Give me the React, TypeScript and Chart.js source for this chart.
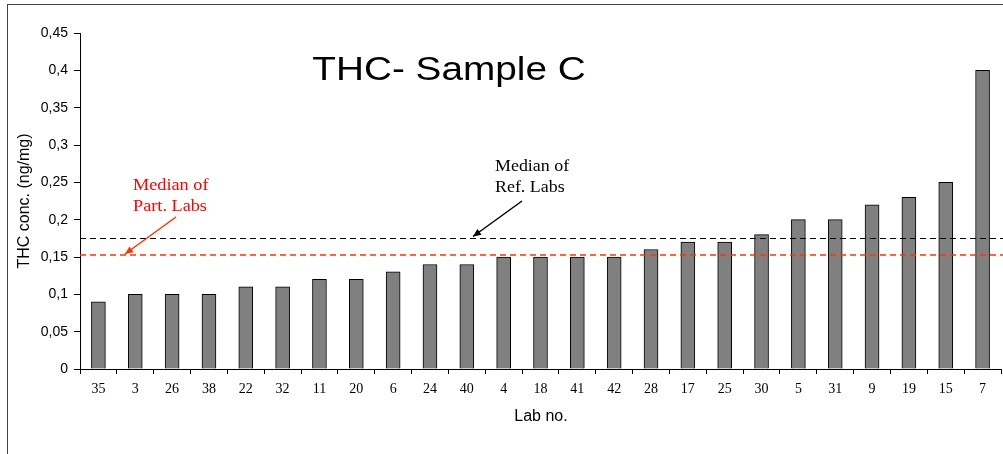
import React, { useEffect, useRef } from "react";
import { Chart, registerables } from "chart.js";

Chart.register(...registerables);

const labNumbers: string[] = ["35", "3", "26", "38", "22", "32", "11", "20", "6", "24", "40", "4", "18", "41", "42", "28", "17", "25", "30", "5", "31", "9", "19", "15", "7"];
const thcValues: number[] = [0.09, 0.1, 0.1, 0.1, 0.11, 0.11, 0.12, 0.12, 0.13, 0.14, 0.14, 0.15, 0.15, 0.15, 0.15, 0.16, 0.17, 0.17, 0.18, 0.2, 0.2, 0.22, 0.23, 0.25, 0.4];
const medianRefLabs = 0.175;
const medianPartLabs = 0.153;
const chartTitle = "THC- Sample C";
const yAxisTitle = "THC conc. (ng/mg)";
const xAxisTitle = "Lab no.";
const refLabel: string[] = ["Median of", "Ref. Labs"];
const partLabel: string[] = ["Median of", "Part. Labs"];

function stretchedText(ctx: CanvasRenderingContext2D, text: string, x: number, y: number, sx: number) {
  ctx.save();
  ctx.translate(x, y);
  ctx.scale(sx, 1);
  ctx.fillText(text, 0, 0);
  ctx.restore();
}

function arrow(ctx: CanvasRenderingContext2D, x1: number, y1: number, x2: number, y2: number, color: string) {
  ctx.save();
  ctx.strokeStyle = color;
  ctx.fillStyle = color;
  ctx.lineWidth = 1.5;
  ctx.setLineDash([]);
  ctx.beginPath();
  ctx.moveTo(x1, y1);
  ctx.lineTo(x2, y2);
  ctx.stroke();
  const ang = Math.atan2(y2 - y1, x2 - x1);
  const L = 8, W = 3.5;
  ctx.beginPath();
  ctx.moveTo(x2, y2);
  ctx.lineTo(x2 - L * Math.cos(ang) + W * Math.sin(ang), y2 - L * Math.sin(ang) - W * Math.cos(ang));
  ctx.lineTo(x2 - L * Math.cos(ang) - W * Math.sin(ang), y2 - L * Math.sin(ang) + W * Math.cos(ang));
  ctx.closePath();
  ctx.fill();
  ctx.restore();
}

const decorPlugin = {
  id: "decor",
  beforeDraw(chart: any) {
    const ctx = chart.ctx;
    ctx.save();
    ctx.fillStyle = "#ffffff";
    ctx.fillRect(0, 0, chart.width, chart.height);
    ctx.strokeStyle = "#444444";
    ctx.lineWidth = 1;
    ctx.strokeRect(7.5, 4.5, chart.width + 20, chart.height + 20);
    ctx.restore();
  },
  afterDatasetsDraw(chart: any) {
    const ctx = chart.ctx;
    const { left, top, bottom } = chart.chartArea;
    const y = chart.scales.y;
    ctx.save();
    ctx.lineWidth = 1;
    // median lines
    const yRef = Math.round(y.getPixelForValue(medianRefLabs)) + 0.5;
    const yPart = Math.round(y.getPixelForValue(medianPartLabs));
    ctx.setLineDash([6, 4]);
    ctx.strokeStyle = "#000000";
    ctx.beginPath();
    ctx.moveTo(left, yRef);
    ctx.lineTo(chart.width, yRef);
    ctx.stroke();
    ctx.strokeStyle = "#ff3300";
    ctx.lineWidth = 1.6;
    ctx.beginPath();
    ctx.moveTo(left, yPart);
    ctx.lineTo(chart.width, yPart);
    ctx.stroke();
    ctx.setLineDash([]);

    // title
    ctx.fillStyle = "#000000";
    ctx.font = "34px 'Liberation Sans', Arial, sans-serif";
    ctx.textAlign = "center";
    ctx.textBaseline = "middle";
    stretchedText(ctx, chartTitle, 449, 71, 1.14);

    // y title
    ctx.save();
    ctx.font = "16px 'Liberation Sans', Arial, sans-serif";
    ctx.translate(25, (top + bottom) / 2);
    ctx.rotate(-Math.PI / 2);
    ctx.fillText(yAxisTitle, 0, 0);
    ctx.restore();

    // x title
    ctx.font = "16px 'Liberation Sans', Arial, sans-serif";
    ctx.fillText(xAxisTitle, 541, 417);

    // annotations
    ctx.font = "16px 'Liberation Serif', 'Times New Roman', serif";
    ctx.textAlign = "left";
    ctx.fillStyle = "#000000";
    stretchedText(ctx, refLabel[0], 495, 167, 1.12);
    stretchedText(ctx, refLabel[1], 495, 188, 1.12);
    ctx.fillStyle = "#ff0000";
    stretchedText(ctx, partLabel[0], 133, 186, 1.14);
    stretchedText(ctx, partLabel[1], 133, 207, 1.14);
    arrow(ctx, 522, 201, 473, yRef - 2, "#000000");
    arrow(ctx, 176, 217, 125, yPart - 1, "#ff3300");
    ctx.restore();
  },
};

export default function App() {
  const ref = useRef<HTMLCanvasElement>(null);
  useEffect(() => {
    if (!ref.current) return;
    const chart = new Chart(ref.current, {
      type: "bar",
      data: {
        labels: labNumbers,
        datasets: [
          {
            data: thcValues,
            backgroundColor: "#808080",
            borderColor: "#000000",
            borderWidth: 1,
            barThickness: 14,
          },
        ],
      },
      options: {
        responsive: false,
        animation: false,
        layout: { padding: { top: 33, right: 2, bottom: 0, left: 0 } },
        plugins: { legend: { display: false }, tooltip: { enabled: false } },
        scales: {
          x: {
            afterFit: (s: any) => { s.height = 85; },
            border: { display: true, color: "#000000", width: 1 },
            grid: { display: true, drawOnChartArea: false, drawTicks: true, tickLength: 5, color: "#000000", offset: true },
            ticks: { color: "#000000", font: { family: "'Liberation Serif', 'Times New Roman', serif", size: 14 }, padding: 7, maxRotation: 0, autoSkip: false },
          },
          y: {
            min: 0,
            max: 0.45,
            afterFit: (s: any) => { s.width = 80; },
            border: { display: true, color: "#000000", width: 1 },
            grid: { display: true, drawOnChartArea: false, drawTicks: true, tickLength: 6, color: "#000000" },
            ticks: {
              stepSize: 0.05,
              color: "#000000",
              padding: 6,
              font: { family: "'Liberation Sans', Arial, sans-serif", size: 14 },
              callback: (v: any) => String(Math.round(Number(v) * 100) / 100).replace(".", ","),
            },
          },
        },
      },
      plugins: [decorPlugin],
    });
    return () => chart.destroy();
  }, []);
  return (
    <div style={{ position: "fixed", left: 0, top: 0, width: 1003, height: 454 }}>
      <canvas ref={ref} width={1003} height={454} style={{ width: 1003, height: 454, display: "block" }} />
    </div>
  );
}
